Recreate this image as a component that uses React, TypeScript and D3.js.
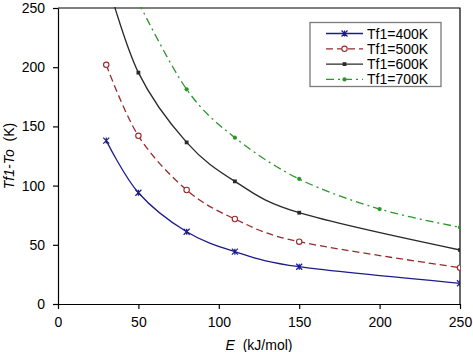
import React, { useEffect, useRef } from "react";
import * as d3 from "d3";

// activation energy E (kJ/mol) and temperature rise Tf1-To (K) per series
const seriesNames = ["Tf1=400K", "Tf1=500K", "Tf1=600K", "Tf1=700K"];
const eValues400 = [30, 50, 80, 110, 150, 250];
const dT400 = [138, 94, 61, 44.2, 31.5, 17.5];
const eValues500 = [30, 50, 80, 110, 150, 250];
const dT500 = [202, 142, 96.3, 71.8, 52.6, 30.7];
const eValues600 = [30, 50, 80, 110, 150, 250];
const dT600 = [275, 195.4, 136.5, 103.6, 77.1, 45.6];
const eValues700 = [50, 80, 110, 150, 200, 250];
const dT700 = [255, 181.3, 140.5, 105.6, 80.2, 64.8];
const xTicks = [0, 50, 100, 150, 200, 250];
const yTicks = [0, 50, 100, 150, 200, 250];

const FONT = "Arial, 'Liberation Sans', sans-serif";

const styles = [
  { color: "#1c1c8a", dash: null, marker: "star" },
  { color: "#9a2a2a", dash: "7,4", marker: "circle" },
  { color: "#2a2a2a", dash: null, marker: "square" },
  { color: "#2c962c", dash: "8,4,2,4", marker: "dot" },
];

export default function App() {
  const ref = useRef<SVGSVGElement | null>(null);
  const width = 473;
  const height = 352;

  useEffect(() => {
    const margin = { top: 8, right: 13, bottom: 48, left: 58 };
    const svg = d3.select(ref.current).attr("width", width).attr("height", height);
    svg.selectAll("*").remove();

    const x = d3.scaleLinear().domain([0, 250]).range([margin.left, width - margin.right]);
    const y = d3.scaleLinear().domain([0, 250]).range([height - margin.bottom, margin.top]);

    svg.append("rect").attr("width", width).attr("height", height).attr("fill", "#fff");

    svg
      .append("clipPath")
      .attr("id", "plot-clip")
      .append("rect")
      .attr("x", margin.left)
      .attr("y", margin.top - 1)
      .attr("width", width - margin.left - margin.right)
      .attr("height", height - margin.top - margin.bottom + 1);

    // axes
    const xAxis = svg
      .append("g")
      .attr("transform", `translate(0,${height - margin.bottom})`)
      .call(d3.axisBottom(x).tickValues(xTicks).tickSize(5).tickSizeOuter(0).tickPadding(8));
    const yAxis = svg
      .append("g")
      .attr("transform", `translate(${margin.left},0)`)
      .call(d3.axisLeft(y).tickValues(yTicks).tickSize(5).tickSizeOuter(0).tickPadding(8));
    [xAxis, yAxis].forEach((ax) => {
      ax.selectAll("path,line").attr("stroke", "#000").attr("stroke-width", 1.2);
      ax.selectAll("text").attr("fill", "#000").attr("font-size", 14).attr("font-family", FONT);
    });

    // top and right frame
    svg
      .append("path")
      .attr("d", `M${x(0)},${y(250)}H${x(250)}V${y(0)}`)
      .attr("fill", "none")
      .attr("stroke", "#000")
      .attr("stroke-width", 1.2);

    const drawMarker = (g: any, kind: string, cx: number, cy: number, color: string) => {
      if (kind === "star") {
        const s = 3;
        g.append("path")
          .attr("d", `M${cx - s},${cy - s}L${cx + s},${cy + s}M${cx - s},${cy + s}L${cx + s},${cy - s}M${cx},${cy - s}V${cy + s}`)
          .attr("stroke", color)
          .attr("stroke-width", 1.2)
          .attr("fill", "none");
      } else if (kind === "circle") {
        g.append("circle").attr("cx", cx).attr("cy", cy).attr("r", 2.7)
          .attr("fill", "#fff").attr("stroke", color).attr("stroke-width", 1.1);
      } else if (kind === "square") {
        g.append("rect").attr("x", cx - 1.9).attr("y", cy - 1.9).attr("width", 3.8).attr("height", 3.8)
          .attr("fill", color);
      } else {
        g.append("circle").attr("cx", cx).attr("cy", cy).attr("r", 2.1).attr("fill", color);
      }
    };

    const allSeries = [
      [eValues400, dT400],
      [eValues500, dT500],
      [eValues600, dT600],
      [eValues700, dT700],
    ];

    const line = d3
      .line<[number, number]>()
      .x((d) => x(d[0]))
      .y((d) => y(d[1]))
      .curve(d3.curveCardinal.tension(0));

    const plot = svg.append("g").attr("clip-path", "url(#plot-clip)");
    allSeries.forEach(([es, vs], i) => {
      const st = styles[i];
      const pts = es.map((e, k) => [e, vs[k]] as [number, number]);
      plot
        .append("path")
        .attr("d", line(pts))
        .attr("fill", "none")
        .attr("stroke", st.color)
        .attr("stroke-width", 1.3)
        .attr("stroke-dasharray", st.dash);
      pts
        .filter((p) => p[1] <= 250)
        .forEach((p) => drawMarker(plot, st.marker, x(p[0]), y(p[1]), st.color));
    });

    // legend
    const lg = svg.append("g");
    lg.append("rect")
      .attr("x", 310)
      .attr("y", 22.5)
      .attr("width", 131)
      .attr("height", 64)
      .attr("fill", "#fff")
      .attr("stroke", "#7a7a7a")
      .attr("stroke-width", 1.3);
    seriesNames.forEach((name, i) => {
      const st = styles[i];
      const ry = 33.5 + i * 15.3;
      lg.append("line")
        .attr("x1", 326)
        .attr("x2", 363)
        .attr("y1", ry)
        .attr("y2", ry)
        .attr("stroke", st.color)
        .attr("stroke-width", 1.3)
        .attr("stroke-dasharray", st.dash);
      drawMarker(lg, st.marker, 344.5, ry, st.color);
      lg.append("text")
        .attr("x", 367)
        .attr("y", ry + 5)
        .attr("font-size", 14)
        .attr("font-family", FONT)
        .attr("fill", "#000")
        .text(name);
    });

    // axis titles
    const xt = svg
      .append("text")
      .attr("x", 259)
      .attr("y", 350)
      .attr("text-anchor", "middle")
      .attr("font-size", 14)
      .attr("font-family", FONT)
      .attr("fill", "#000");
    xt.append("tspan").attr("font-style", "italic").text("E");
    xt.append("tspan").text("\u00a0 (kJ/mol)");

    const yt = svg
      .append("text")
      .attr("transform", `translate(14,${(y(0) + y(250)) / 2}) rotate(-90)`)
      .attr("text-anchor", "middle")
      .attr("font-size", 14)
      .attr("font-family", FONT)
      .attr("fill", "#000");
    yt.append("tspan").attr("font-style", "italic").text("Tf1-To");
    yt.append("tspan").text("\u00a0 (K)");
  }, []);

  return <svg ref={ref} style={{ position: "absolute", left: 0, top: 0 }} />;
}
